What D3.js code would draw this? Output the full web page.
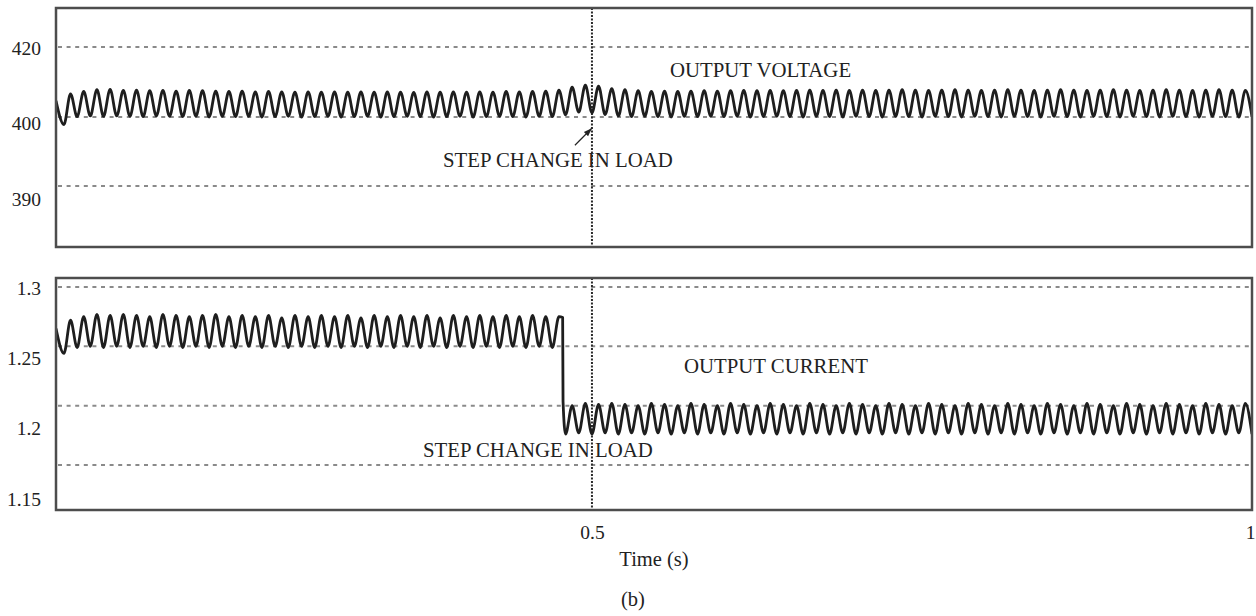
<!DOCTYPE html>
<html>
<head>
<meta charset="utf-8">
<script src="https://cdn.jsdelivr.net/npm/d3@7/dist/d3.min.js"></script>
<style>
  html, body { margin: 0; padding: 0; background: #fff; }
  svg { display: block; }
  text { font-family: "Liberation Serif", "DejaVu Serif", serif; fill: #222; }
</style>
</head>
<body>
<svg id="chart" width="1256" height="616"></svg>
<script>
// Time window of both traces (s) and the sampling of the ripple extrema
const timeWindow = [0.094, 1];
const sampleStart = 0.1;
const sampleStep = 0.005;   // half period of the 100 Hz ripple
const timeTicks = [0.5, 1];
const stepTime = 0.5;       // marker for the load step

// Output voltage (V): value at the window start, then alternating trough / peak
const voltageStart = 404.6;
const voltageExtrema = [
  398.9, 406.6, 400.1, 407.3, 400.3, 407.8, 400.2, 407.9, 400.3, 407.6,
  400.2, 407.7, 400.1, 407.5, 400.3, 407.6, 400.2, 407.4, 400.1, 407.6,
  400.2, 407.5, 400.0, 407.4, 400.2, 407.3, 400.1, 407.4, 400.2, 407.2,
  400.0, 407.3, 400.1, 407.2, 400.2, 407.1, 400.0, 407.2, 400.1, 407.1,
  400.2, 407.2, 400.0, 407.1, 400.1, 407.2, 400.2, 407.1, 400.0, 407.2,
  400.1, 407.1, 400.2, 407.0, 400.1, 407.2, 400.0, 407.1, 400.1, 407.2,
  400.2, 407.1, 400.0, 407.2, 400.1, 407.1, 400.2, 407.3, 400.1, 407.2,
  400.0, 407.3, 400.2, 407.4, 400.1, 407.7, 400.6, 408.5, 401.4, 409.1,
  401.2, 408.8, 400.7, 408.1, 400.3, 407.8, 400.1, 407.5, 400.2, 407.3,
  400.1, 407.4, 400.0, 407.3, 400.2, 407.4, 400.1, 407.5, 400.2, 407.4,
  400.1, 407.5, 400.2, 407.6, 400.0, 407.5, 400.1, 407.6, 400.2, 407.5,
  400.1, 407.6, 400.0, 407.7, 400.2, 407.6, 400.1, 407.7, 400.0, 407.6,
  400.2, 407.7, 400.1, 407.6, 400.0, 407.7, 400.2, 407.8, 400.1, 407.7,
  400.0, 407.6, 400.2, 407.7, 400.1, 407.8, 400.0, 407.7, 400.2, 407.6,
  400.1, 407.7, 400.0, 407.8, 400.2, 407.7, 400.1, 407.6, 400.0, 407.7,
  400.2, 407.8, 400.1, 407.7, 400.0, 407.6, 400.2, 407.7, 400.1, 407.8,
  400.0, 407.7, 400.2, 407.6, 400.1, 407.7, 400.0, 407.8, 400.2, 407.7,
  400.1, 407.6, 400.0, 407.7, 400.2, 407.8, 400.1, 407.7, 400.0, 407.6,
  400.1
];
const voltageGrid = [420, 400, 390];
const voltageTickLabels = ["420", "400", "390"];

// Output current (A): value at the window start, then alternating trough / peak
const currentStart = 1.265;
const currentExtrema = [
  1.244, 1.272, 1.249, 1.275, 1.250, 1.277, 1.249, 1.276, 1.250, 1.277,
  1.249, 1.276, 1.250, 1.275, 1.249, 1.277, 1.250, 1.276, 1.249, 1.275,
  1.250, 1.276, 1.249, 1.277, 1.250, 1.275, 1.249, 1.276, 1.250, 1.275,
  1.249, 1.276, 1.250, 1.274, 1.249, 1.276, 1.250, 1.275, 1.249, 1.276,
  1.250, 1.275, 1.249, 1.276, 1.250, 1.274, 1.249, 1.276, 1.250, 1.275,
  1.249, 1.276, 1.250, 1.275, 1.249, 1.276, 1.250, 1.274, 1.249, 1.276,
  1.250, 1.275, 1.249, 1.276, 1.250, 1.275, 1.249, 1.276, 1.250, 1.275,
  1.249, 1.276, 1.250, 1.275, 1.249, 1.275,
  1.176, 1.200, 1.177, 1.202, 1.176, 1.201, 1.177, 1.202, 1.176, 1.201,
  1.177, 1.200, 1.176, 1.202, 1.177, 1.201, 1.176, 1.200, 1.177, 1.202,
  1.176, 1.201, 1.177, 1.200, 1.176, 1.202, 1.177, 1.201, 1.176, 1.200,
  1.177, 1.202, 1.176, 1.201, 1.177, 1.200, 1.176, 1.202, 1.177, 1.201,
  1.176, 1.200, 1.177, 1.202, 1.176, 1.201, 1.177, 1.200, 1.176, 1.202,
  1.177, 1.201, 1.176, 1.200, 1.177, 1.202, 1.176, 1.201, 1.177, 1.200,
  1.176, 1.202, 1.177, 1.201, 1.176, 1.200, 1.177, 1.202, 1.176, 1.201,
  1.177, 1.200, 1.176, 1.202, 1.177, 1.201, 1.176, 1.200, 1.177, 1.202,
  1.176, 1.201, 1.177, 1.200, 1.176, 1.202, 1.177, 1.201, 1.176, 1.200,
  1.177, 1.202, 1.176, 1.201, 1.177, 1.200, 1.176, 1.202, 1.177, 1.201,
  1.176, 1.200, 1.177, 1.202, 1.176
];
// switching edge of the current when the load steps
const currentEdge = [[0.4778, 1.2742], [0.4781, 1.2035]];
const currentGrid = [1.3, 1.25, 1.2, 1.15];
const currentTickLabels = [1.3, 1.25, 1.2, 1.15];

// ---------------------------------------------------------------------------
const svg = d3.select("#chart");
svg.append("rect").attr("width", 1256).attr("height", 616).attr("fill", "#fff");

const plotX = [56, 1252];
const x = d3.scaleLinear().domain(timeWindow).range(plotX);
const serif = '"Liberation Serif", "DejaVu Serif", serif';

function toSeries(startValue, extrema, extra) {
  const pts = [[timeWindow[0], startValue]];
  extrema.forEach((v, i) => pts.push([sampleStart + i * sampleStep, v]));
  (extra || []).forEach(p => pts.push(p));
  return pts.sort((a, b) => a[0] - b[0]);
}

function drawPanel(opts) {
  const { top, bottom, y, grid, labelScale, labels, data, id } = opts;
  const g = svg.append("g");

  g.append("clipPath").attr("id", id)
    .append("rect").attr("x", plotX[0]).attr("y", top)
    .attr("width", plotX[1] - plotX[0]).attr("height", bottom - top);

  // horizontal grid
  g.selectAll("line.grid").data(grid).join("line")
    .attr("class", "grid")
    .attr("x1", plotX[0] + 2).attr("x2", plotX[1] - 2)
    .attr("y1", d => y(d)).attr("y2", d => y(d))
    .attr("stroke", "#8a8a8a").attr("stroke-width", 2)
    .attr("stroke-dasharray", "4,4.6");

  // load-step marker
  g.append("line")
    .attr("x1", x(stepTime)).attr("x2", x(stepTime))
    .attr("y1", top).attr("y2", bottom)
    .attr("stroke", "#2a2a2a").attr("stroke-width", 2)
    .attr("stroke-dasharray", "2,1.5");

  // trace
  const line = d3.line().x(d => x(d[0])).y(d => y(d[1])).curve(d3.curveMonotoneX);
  g.append("path").datum(data)
    .attr("clip-path", `url(#${id})`)
    .attr("d", line)
    .attr("fill", "none").attr("stroke", "#1e1e1e").attr("stroke-width", 2.8)
    .attr("stroke-linejoin", "round");

  // frame
  g.append("rect")
    .attr("x", plotX[0]).attr("y", top)
    .attr("width", plotX[1] - plotX[0]).attr("height", bottom - top)
    .attr("fill", "none").attr("stroke", "#4d4d4d").attr("stroke-width", 2.5);

  // value labels
  const axis = d3.axisLeft(labelScale).tickValues(labels).tickSize(0).tickPadding(15)
    .tickFormat(d => String(d));
  const ag = g.append("g").attr("transform", `translate(${plotX[0]},0)`).call(axis);
  ag.select(".domain").remove();
  ag.selectAll("text").style("font-size", "19.5px").attr("fill", "#222")
    .style("font-family", serif);
  return g;
}

// ---- output voltage panel
const yV = d3.scaleLinear().domain([390, 400, 420]).range([186, 117, 47]);
const vLabels = d3.scalePoint().domain(voltageTickLabels).range([48, 199]);
drawPanel({
  id: "clip-v", top: 8, bottom: 247, y: yV, grid: voltageGrid,
  labelScale: vLabels, labels: voltageTickLabels,
  data: toSeries(voltageStart, voltageExtrema)
});

// ---- output current panel
const yI = d3.scaleLinear().domain([1.15, 1.3]).range([465, 287]);
const iLabels = d3.scaleLinear().domain([1.15, 1.3]).range([499, 288]);
drawPanel({
  id: "clip-i", top: 278, bottom: 510, y: yI, grid: currentGrid,
  labelScale: iLabels, labels: currentTickLabels,
  data: toSeries(currentStart, currentExtrema, currentEdge)
});

// time axis
const xAxis = d3.axisBottom(x).tickValues(timeTicks).tickSize(0).tickPadding(15)
  .tickFormat(d3.format(""));
const xg = svg.append("g").attr("transform", "translate(0,510)").call(xAxis);
xg.select(".domain").remove();
xg.selectAll("text").style("font-size", "19.5px").attr("fill", "#222")
  .style("font-family", serif);
xg.selectAll("text").filter(d => d === 1).attr("dx", -2);

// annotations
const note = (tx, ty, str) => svg.append("text")
  .attr("x", tx).attr("y", ty).style("font-size", "20.8px").text(str);

note(670, 77, "OUTPUT VOLTAGE");
note(443, 167, "STEP CHANGE IN LOAD");
note(684, 373, "OUTPUT CURRENT");
note(423, 457, "STEP CHANGE IN LOAD");

svg.append("defs").append("marker")
  .attr("id", "arrow").attr("viewBox", "0 0 10 10")
  .attr("refX", 9).attr("refY", 5)
  .attr("markerWidth", 7).attr("markerHeight", 7)
  .attr("orient", "auto-start-reverse")
  .append("path").attr("d", "M0,1.5 L10,5 L0,8.5 Z").attr("fill", "#222");

svg.append("line")
  .attr("x1", x(0.4871)).attr("y1", yV(395.9))
  .attr("x2", x(0.4995)).attr("y2", yV(398.3))
  .attr("stroke", "#222").attr("stroke-width", 1.2)
  .attr("marker-end", "url(#arrow)");

svg.append("text").attr("x", 654).attr("y", 566).attr("text-anchor", "middle")
  .style("font-size", "20.5px").text("Time (s)");
svg.append("text").attr("x", 633).attr("y", 606).attr("text-anchor", "middle")
  .style("font-size", "20.5px").text("(b)");
</script>
</body>
</html>
